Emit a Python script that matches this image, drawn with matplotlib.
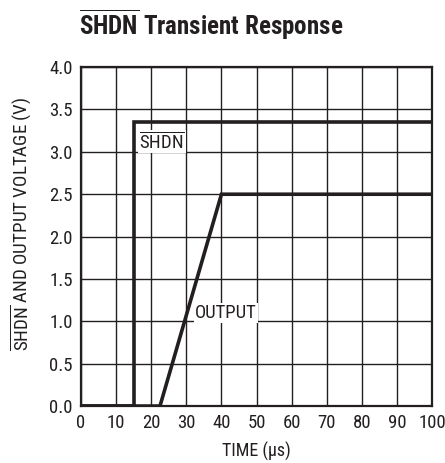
import matplotlib
matplotlib.use("Agg")
import matplotlib.pyplot as plt

time_us = [0, 15, 15, 100]
shdn_v = [0.0, 0.0, 3.35, 3.35]
out_time_us = [0, 22.5, 40, 100]
out_v = [0.0, 0.0, 2.5, 2.5]

x_ticks = list(range(0, 101, 10))
y_ticks = [0.0, 0.5, 1.0, 1.5, 2.0, 2.5, 3.0, 3.5, 4.0]

INK = "#231f20"
FONT = "Roboto Condensed"
plt.rcParams["font.family"] = [FONT, "DejaVu Sans"]
plt.rcParams["mathtext.fontset"] = "custom"
plt.rcParams["mathtext.rm"] = FONT
plt.rcParams["mathtext.it"] = FONT + ":italic"
plt.rcParams["mathtext.bf"] = FONT + ":bold"

fig = plt.figure(figsize=(4.45, 4.63), dpi=100)
ax = fig.add_axes([0.182, 0.123, 0.789, 0.732])

ax.plot(time_us, shdn_v, color=INK, lw=2.6, solid_joinstyle="miter", zorder=3)
ax.plot(out_time_us, out_v, color=INK, lw=2.6, solid_joinstyle="miter", zorder=3)

ax.set_xlim(0, 100)
ax.set_ylim(0, 4.0)
ax.set_xticks(x_ticks)
ax.set_yticks(y_ticks)
ax.set_yticklabels([f"{v:.1f}" for v in y_ticks])
ax.grid(True, color=INK, lw=1.0)
ax.set_axisbelow(True)
ax.tick_params(length=0, labelsize=13.5, pad=6, colors=INK)
for s in ax.spines.values():
    s.set_linewidth(1.6)
    s.set_color(INK)

ax.text(16.5, 3.12, r"$\overline{\mathrm{SHDN}}$", fontsize=13.5, color=INK,
        ha="left", va="center", zorder=4,
        bbox=dict(facecolor="white", edgecolor="none", pad=1))
ax.text(32.5, 1.1, "OUTPUT", fontsize=13.5, color=INK,
        ha="left", va="center", zorder=4,
        bbox=dict(facecolor="white", edgecolor="none", pad=1))

ax.set_xlabel("TIME (\u00b5s)", fontsize=13, color=INK, labelpad=7)
ax.set_ylabel(r"$\overline{\mathrm{SHDN}}$ AND OUTPUT VOLTAGE (V)", fontsize=13.7,
              color=INK)
ax.yaxis.set_label_coords(-0.135, 0.537)
fig.text(0.474, 0.946, r"$\overline{\mathbf{SHDN}}$ Transient Response", fontsize=18,
         fontweight="bold", color=INK, ha="center", va="center")

fig.savefig("out.png", dpi=100)
